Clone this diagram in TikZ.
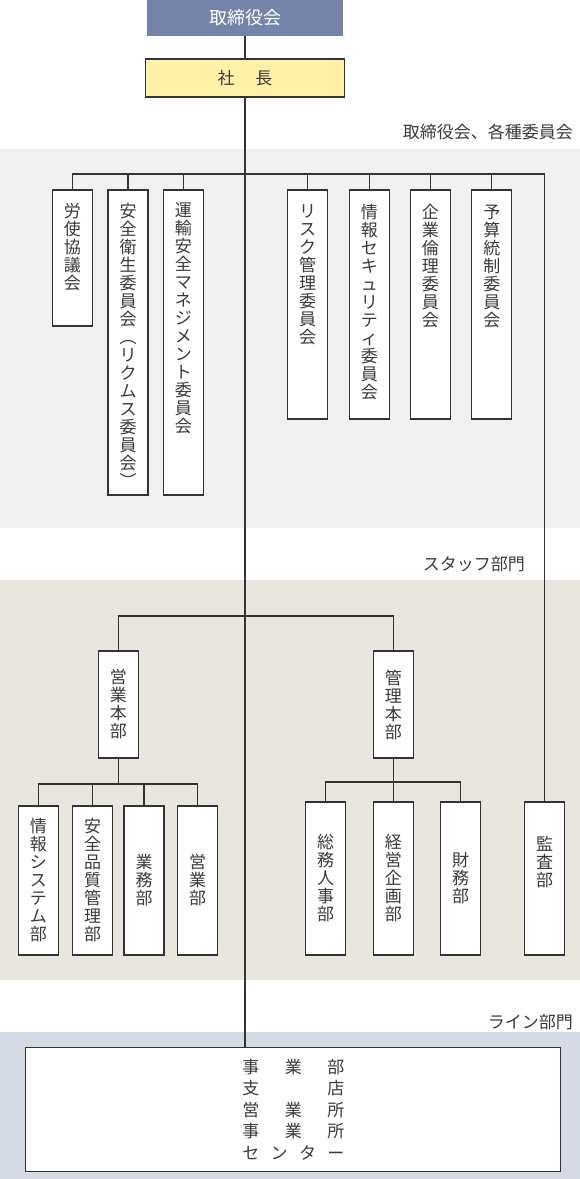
\documentclass[tikz,border=0pt]{standalone}
\usepackage{fontspec}
\setmainfont{Noto Sans CJK JP}
\definecolor{boardblue}{HTML}{7583A8}
\definecolor{presyellow}{HTML}{FFF2A8}
\definecolor{bandA}{HTML}{F0F0F0}
\definecolor{bandB}{HTML}{E9E5DF}
\definecolor{bandC}{HTML}{D5DAE5}
\definecolor{linec}{HTML}{333333}
\definecolor{textc}{HTML}{3A3A3A}
\newcommand{\jpfont}{\fontsize{17}{18}\selectfont}
\begin{document}
\begin{tikzpicture}[x=1pt,y=-1pt,
  box/.style={draw=linec, line width=1.1pt, fill=white, minimum width=40pt, inner sep=0pt, align=center, font=\jpfont, text=textc},
  vtxt/.style={inner sep=0pt, align=center, font=\jpfont, text=textc},
  conn/.style={draw=linec, line width=1.1pt},
  sect/.style={inner sep=0pt, font=\jpfont, text=textc, anchor=east}]
\useasboundingbox (0,0) rectangle (580,1179);
% bands
\fill[bandA] (0,149) rectangle (580,528);
\fill[bandB] (0,580) rectangle (580,980);
\fill[bandC] (0,1032) rectangle (580,1179);
% section labels
\node[sect] (lab1) at (573,132) {取締役会、各種委員会};
\node[sect] (lab2) at (525,564) {スタッフ部門};
\node[sect] (lab3) at (573,1022) {ライン部門};
% top
\node[fill=boardblue, minimum width=196pt, minimum height=36pt, inner sep=0pt, font=\fontsize{18}{20}\selectfont, text=white] (board) at (245,18) {取締役会};
\node[draw=linec, line width=1.1pt, fill=presyellow, minimum width=199pt, minimum height=38pt, inner sep=0pt, font=\jpfont, text=textc] (pres) at (245,78) {社\hspace{21pt}長};
% committees
\node[box, minimum height=136pt] (c1) at (72.3,258) {};
\node[box, minimum height=305pt] (c2) at (128,342.5) {};
\node[box, minimum height=305pt] (c3) at (183.3,342.5) {};
\node[box, minimum height=229pt] (c4) at (307.5,304.5) {};
\node[box, minimum height=229pt] (c5) at (369.3,304.5) {};
\node[box, minimum height=229pt] (c6) at (430.3,304.5) {};
\node[box, minimum height=229pt] (c7) at (491.8,304.5) {};
\node[vtxt, anchor=north] (t1) at ([yshift=-14pt]c1.north) {労\\使\\協\\議\\会};
\node[vtxt, anchor=north] (t2) at ([yshift=-14pt]c2.north) {安\\全\\衛\\生\\委\\員\\会\\︵\\リ\\ク\\ム\\ス\\委\\員\\会\\︶};
\node[vtxt, anchor=north] (t3) at ([yshift=-13pt]c3.north) {運\\輸\\安\\全\\マ\\ネ\\ジ\\メ\\ン\\ト\\委\\員\\会};
\node[vtxt, anchor=north] (t4) at ([yshift=-15pt]c4.north) {リ\\ス\\ク\\管\\理\\委\\員\\会};
\node[vtxt, anchor=north] (t5) at ([yshift=-15pt]c5.north) {情\\報\\セ\\キ\\ュ\\リ\\テ\\ィ\\委\\員\\会};
\node[vtxt, anchor=north] (t6) at ([yshift=-15pt]c6.north) {企\\業\\倫\\理\\委\\員\\会};
\node[vtxt, anchor=north] (t7) at ([yshift=-15pt]c7.north) {予\\算\\統\\制\\委\\員\\会};
% staff
\node[box, minimum height=107pt] (s1) at (118.4,704.5) {営\\業\\本\\部};
\node[box, minimum height=107pt] (s2) at (393.3,704.5) {管\\理\\本\\部};
\node[box, minimum height=149pt] (d1) at (38.5,880.5) {情\\報\\シ\\ス\\テ\\ム\\部};
\node[box, minimum height=149pt] (d2) at (92.5,880.5) {安\\全\\品\\質\\管\\理\\部};
\node[box, minimum height=149pt] (d3) at (144,880.5) {業\\務\\部};
\node[box, minimum height=149pt] (d4) at (197.5,880.5) {営\\業\\部};
\node[box, minimum height=153pt] (d5) at (325.5,878.5) {総\\務\\人\\事\\部};
\node[box, minimum height=153pt] (d6) at (393.3,878.5) {経\\営\\企\\画\\部};
\node[box, minimum height=153pt] (d7) at (460.6,878.5) {財\\務\\部};
\node[box, minimum height=153pt] (audit) at (544.6,878.5) {};
\node[vtxt, anchor=north] (ta) at ([yshift=-35pt]audit.north) {監\\査\\部};
% line
\node[draw=linec, line width=1.1pt, fill=white, minimum width=535pt, minimum height=124.5pt, inner sep=0pt, align=center, font={\fontsize{17}{21.5}\selectfont}, text=textc] (line) at (293.4,1109.5)
 {\makebox[102pt][s]{事\hfill 業\hfill 部}\\
  \makebox[102pt][s]{支\hfill 店}\\
  \makebox[102pt][s]{営\hfill 業\hfill 所}\\
  \makebox[102pt][s]{事\hfill 業\hfill 所}\\
  \makebox[102pt][s]{セ\hfill ン\hfill タ\hfill ー}};
% coordinates for buses
\coordinate (bus1) at (245,174);
\coordinate (bus2) at (245,616);
\coordinate (bus3) at (118.4,784);
\coordinate (bus4) at (393.3,782);
% connectors
\draw[conn] (board.south) -- (pres.north);
\draw[conn] (pres.south) -- (pres.south |- line.north);
\draw[conn] (c1.north) -- (c1.north |- bus1) -- (bus1 -| audit.north) -- (audit.north);
\foreach \n in {c2,c3,c4,c5,c6,c7} \draw[conn] (\n.north) -- (\n.north |- bus1);
\draw[conn] (s1.north) -- (s1.north |- bus2) -- (s2.north |- bus2) -- (s2.north);
\draw[conn] (s1.south) -- (bus3);
\draw[conn] (d1.north) -- (d1.north |- bus3) -- (d4.north |- bus3) -- (d4.north);
\foreach \n in {d2,d3} \draw[conn] (\n.north) -- (\n.north |- bus3);
\draw[conn] (s2.south) -- (bus4);
\draw[conn] (d5.north) -- (d5.north |- bus4) -- (d7.north |- bus4) -- (d7.north);
\draw[conn] (d6.north) -- (d6.north |- bus4);
\end{tikzpicture}
\end{document}
